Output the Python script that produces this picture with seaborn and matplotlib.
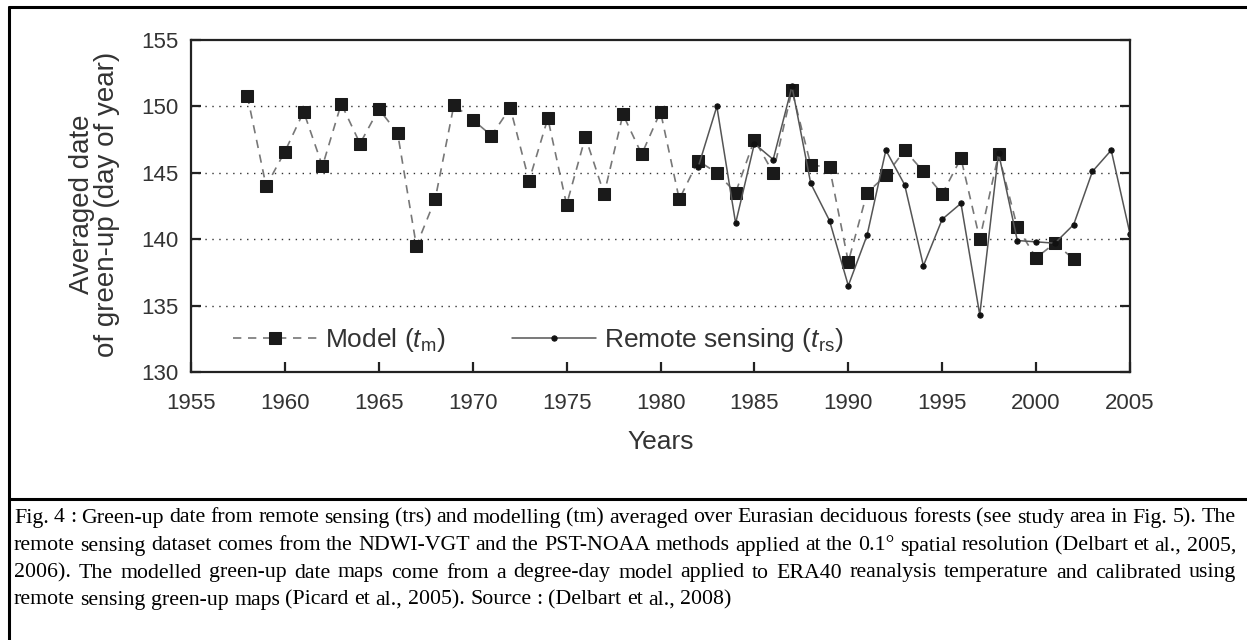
import matplotlib
matplotlib.use("Agg")
import matplotlib.pyplot as plt
from matplotlib.lines import Line2D
import pandas as pd
import seaborn as sns

# datos
anios_modelo = list(range(1958, 2003))
modelo = [150.8, 144.0, 146.6, 149.6, 145.5, 150.2, 147.2, 149.8, 148.0, 139.5,
          143.0, 150.1, 149.0, 147.8, 149.9, 144.4, 149.1, 142.6, 147.7, 143.4,
          149.4, 146.4, 149.6, 143.0, 145.9, 145.0, 143.5, 147.5, 145.0, 151.2,
          145.6, 145.4, 138.3, 143.5, 144.8, 146.7, 145.1, 143.4, 146.1, 140.0,
          146.4, 140.9, 138.6, 139.7, 138.5]
anios_rs = list(range(1982, 2006))
teledeteccion = [145.4, 150.0, 141.2, 147.2, 146.0, 151.5, 144.2, 141.4, 136.5, 140.3,
                 146.7, 144.1, 138.0, 141.5, 142.7, 134.3, 146.5, 139.9, 139.8, 139.7,
                 141.1, 145.1, 146.7, 140.4]
yticks = [130, 135, 140, 145, 150, 155]
xticks = [1955, 1960, 1965, 1970, 1975, 1980, 1985, 1990, 1995, 2000, 2005]

caption_lines = [
    "Fig. 4 : Green-up date from remote sensing (trs) and modelling (tm) averaged over Eurasian deciduous forests (see study area in Fig. 5). The",
    "remote sensing dataset comes from the NDWI-VGT and the PST-NOAA methods applied at the 0.1\u00b0 spatial resolution (Delbart et al., 2005,",
    "2006). The modelled green-up date maps come from a degree-day model applied to ERA40 reanalysis temperature and calibrated using",
    "remote sensing green-up maps (Picard et al., 2005). Source : (Delbart et al., 2008)",
]

df_m = pd.DataFrame({"anio": anios_modelo, "valor": modelo})
df_rs = pd.DataFrame({"anio": anios_rs, "valor": teledeteccion})

sns.set_theme(style="white")
plt.rcParams["font.family"] = ["Liberation Sans", "DejaVu Sans"]
plt.rcParams["mathtext.fontset"] = "custom"
plt.rcParams["mathtext.rm"] = "Liberation Sans"
plt.rcParams["mathtext.it"] = "Liberation Sans:italic"

W, H = 1247, 640
ax_l, ax_r, ax_t, ax_b = 191, 1130, 40, 372
fig = plt.figure(figsize=(W / 100, H / 100), dpi=100)
ax = fig.add_axes([ax_l / W, 1 - ax_b / H, (ax_r - ax_l) / W, (ax_b - ax_t) / H])

sns.lineplot(data=df_m, x="anio", y="valor", ax=ax, color="#777777", lw=1.2,
             linestyle=(0, (5, 4)), marker="s", markersize=9,
             markerfacecolor="#1a1a1a", markeredgecolor="#1a1a1a",
             label=r"Model ($t_{\mathrm{m}}$)")
sns.lineplot(data=df_rs, x="anio", y="valor", ax=ax, color="#555555", lw=1.1,
             marker="o", markersize=3.8, markerfacecolor="#111111",
             markeredgecolor="#111111", label=r"Remote sensing ($t_{\mathrm{rs}}$)")

ax.set_xlim(1955, 2005)
ax.set_ylim(130, 155)
ax.set_xticks(xticks)
ax.set_yticks(yticks)
for v in [135, 140, 145, 150]:
    ax.axhline(v, color="#333333", lw=1.0, linestyle=(0, (1, 4)), zorder=0)

for s in ax.spines.values():
    s.set_color("#222222")
    s.set_linewidth(1.6)
ax.tick_params(axis="both", direction="in", length=7, width=1.6, color="#222222",
               labelsize=16, labelcolor="#333333", right=True, top=False,
               left=True, bottom=True)
ax.tick_params(axis="x", pad=15)
ax.tick_params(axis="y", pad=9)
ax.set_xlabel("Years", fontsize=19, color="#333333", va="top")
ax.xaxis.set_label_coords(0.5, (ax_b - 430) / (ax_b - ax_t))
ax.set_ylabel("Averaged date\nof green-up (day of year)", fontsize=20,
              color="#333333", linespacing=0.95)
ax.yaxis.set_label_coords((120 - ax_l) / (ax_r - ax_l), 0.505)

leg = ax.legend(loc="center left", ncol=2, frameon=False, fontsize=19,
                handlelength=3.2, columnspacing=2.5, handletextpad=0.3,
                borderaxespad=0, borderpad=0,
                bbox_to_anchor=((233 - ax_l) / (ax_r - ax_l), (ax_b - 340) / (ax_b - ax_t)))
for t in leg.get_texts():
    t.set_color("#333333")

# marco de la figura y linea separadora
sep = 499
fig.add_artist(Line2D([9 / W, 9 / W], [1 - 7 / H, 0], color="black", lw=2.2))
fig.add_artist(Line2D([9 / W, 1], [1 - 7 / H, 1 - 7 / H], color="black", lw=2.2))
fig.add_artist(Line2D([9 / W, 1], [1 - sep / H, 1 - sep / H], color="black", lw=2.2))

# leyenda de la figura, justificada palabra por palabra
fig.canvas.draw()
renderer = fig.canvas.get_renderer()
x0, x1 = 14, 1236


def medir(palabras, size):
    anchos = []
    for p in palabras:
        t = fig.text(0, 0, p, fontsize=size, family="Liberation Serif")
        anchos.append(t.get_window_extent(renderer).width)
        t.remove()
    return anchos


# tamano de letra mas grande que cabe en el ancho
size = 16.0
while size > 10:
    ok = True
    for linea in caption_lines[:-1]:
        pal = linea.split(" ")
        if sum(medir(pal, size)) + (len(pal) - 1) * 0.22 * size * 100 / 72 > x1 - x0:
            ok = False
            break
    if ok:
        break
    size -= 0.25

y_lineas = [518, 546, 573, 600]
for i, (linea, yl) in enumerate(zip(caption_lines, y_lineas)):
    palabras = linea.split(" ")
    anchos = medir(palabras, size)
    if i < len(caption_lines) - 1:
        hueco = (x1 - x0 - sum(anchos)) / (len(palabras) - 1)
    else:
        hueco = 0.25 * size * 100 / 72
    x = x0
    for p, a in zip(palabras, anchos):
        fig.text(x / W, 1 - yl / H, p, fontsize=size, family="Liberation Serif",
                 color="black", va="center", ha="left")
        x += a + hueco

fig.savefig("out.png", dpi=100)
